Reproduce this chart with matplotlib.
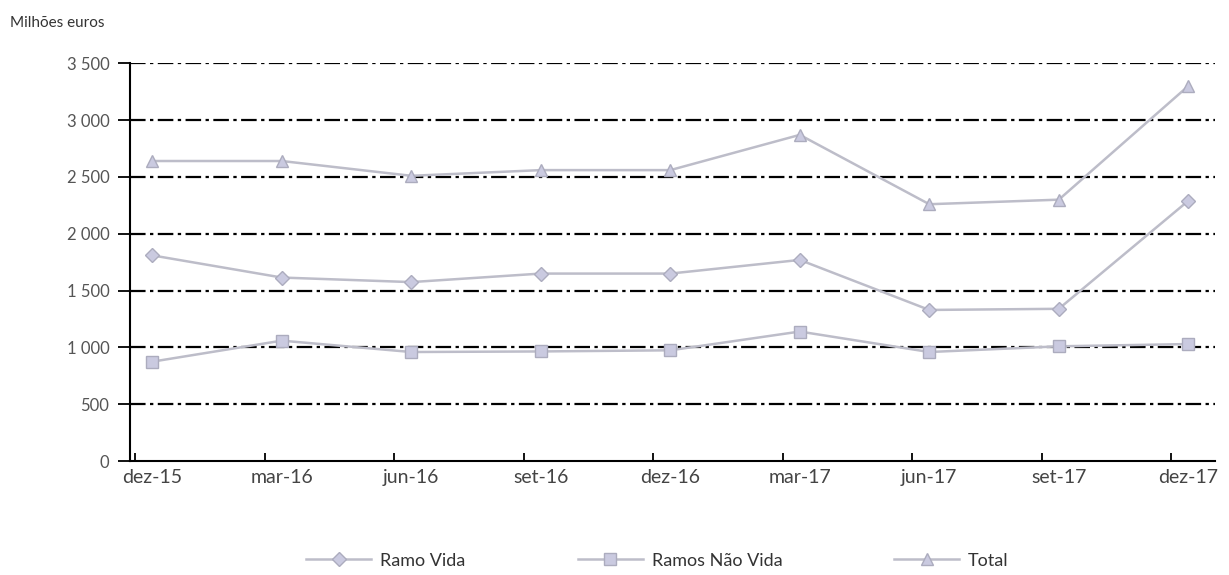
import matplotlib.pyplot as plt
from matplotlib.ticker import FuncFormatter, FixedLocator
import numpy as np

plt.rcParams['font.family'] = ['Lato', 'DejaVu Sans']

# quarters and series (milhões euros)
periods = ["dez-15", "mar-16", "jun-16", "set-16", "dez-16",
           "mar-17", "jun-17", "set-17", "dez-17"]
ramo_vida = [1810, 1615, 1575, 1650, 1650, 1770, 1330, 1340, 2290]
ramos_nao_vida = [875, 1060, 960, 965, 975, 1140, 960, 1010, 1030]
total = [2640, 2640, 2510, 2560, 2560, 2870, 2260, 2300, 3300]

x = np.arange(len(periods))

fig = plt.figure(figsize=(12.29, 5.75), dpi=100)
ax = fig.add_axes([0.106, 0.198, 0.883, 0.692])

# dash-dot grid lines
for v in range(500, 3501, 500):
    ax.axhline(v, color="black", lw=1.6, dashes=(7, 2, 1.5, 2), zorder=1)

line_col = "#bdbdc9"
mk_face = "#cacae0"
mk_edge = "#acacbe"
ax.plot(x, ramo_vida, color=line_col, lw=1.8, marker="D", ms=7,
        mfc=mk_face, mec=mk_edge, label="Ramo Vida", zorder=3)
ax.plot(x, ramos_nao_vida, color=line_col, lw=1.8, marker="s", ms=8,
        mfc=mk_face, mec=mk_edge, label="Ramos Não Vida", zorder=3)
ax.plot(x, total, color=line_col, lw=1.8, marker="^", ms=8,
        mfc=mk_face, mec=mk_edge, label="Total", zorder=3)

ax.set_xlim(-0.17, 8.21)
ax.set_ylim(0, 3500)
ax.set_yticks(range(0, 3501, 500))
ax.yaxis.set_major_formatter(FuncFormatter(lambda v, p: f"{int(v):,}".replace(",", " ")))

# labels sit under the points, tick marks slightly to the left
ax.set_xticks(x)
ax.set_xticklabels(periods)
ax.xaxis.set_minor_locator(FixedLocator(x - 0.13))
ax.tick_params(axis="x", which="major", length=0, pad=6, labelsize=14, labelcolor="#444444")
ax.tick_params(axis="x", which="minor", length=6, width=1.3, direction="in", color="black")
ax.tick_params(axis="y", length=9, width=1.3, labelsize=12, labelcolor="#555555", pad=6)

for s in ["top", "right"]:
    ax.spines[s].set_visible(False)
for s in ["left", "bottom"]:
    ax.spines[s].set_linewidth(1.5)
    ax.spines[s].set_color("black")

fig.text(0.008, 0.953, "Milhões euros", fontsize=11, color="#333333")

fig.legend(loc="center", bbox_to_anchor=(0.535, 0.025), ncol=3, frameon=False,
           fontsize=13, handlelength=3.6, handletextpad=0.5, columnspacing=6.2,
           labelcolor="#333333")

fig.savefig("out.png", dpi=100)
